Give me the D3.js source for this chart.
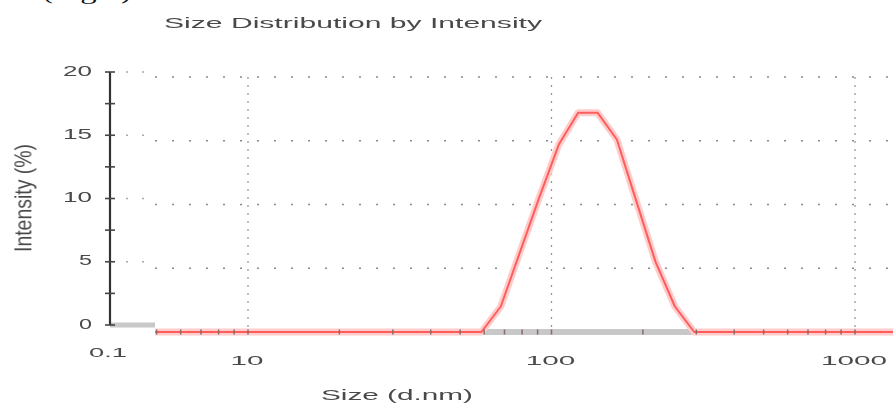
<!DOCTYPE html>
<html>
<head>
<meta charset="utf-8">
<script src="https://cdn.jsdelivr.net/npm/d3@7"></script>
<style>
  body { margin: 0; background: white; }
</style>
</head>
<body>
<div id="chart"></div>
<script>
// Chart values
const sizes = [4.85, 58.77, 68.06, 78.82, 91.28, 105.7, 122.4, 141.8, 164.2, 190.1, 220.2, 255.0, 295.3, 1484];
const intensity = [0, 0, 2.0, 6.3, 10.6, 14.7, 17.2, 17.2, 15.1, 10.3, 5.5, 2.0, 0, 0];
const yTicks = [0, 5, 10, 15, 20];
const yMinorTicks = [2.5, 7.5, 12.5, 17.5];
const xTicks = [10, 100, 1000];
const xTickLabels = ["10", "100", "1000"];
const xMinorTicks = [5, 6, 7, 8, 9, 20, 30, 40, 50, 60, 70, 80, 90, 200, 300, 400, 500, 600, 700, 800, 900];
const xAxisStartLabel = "0.1";
const titleText = "Size Distribution by Intensity";
const xLabel = "Size (d.nm)";
const yLabel = "Intensity (%)";
const figLabel = "(Fig.6)";

document.addEventListener('DOMContentLoaded', function() {
  drawChart();
});

function drawChart() {
  const width = 893;
  const height = 406;
  const plotLeft = 155;
  const axisX = 110;

  const svg = d3.select("#chart")
    .append("svg")
    .attr("width", width)
    .attr("height", height);

  svg.append("rect")
    .attr("width", width)
    .attr("height", height)
    .attr("fill", "white");

  const defs = svg.append("defs");

  // the source picture is a soft, low resolution scan
  defs.append("filter")
    .attr("id", "soft")
    .append("feGaussianBlur")
    .attr("stdDeviation", 0.55);

  defs.append("clipPath")
    .attr("id", "plotClip")
    .append("rect")
    .attr("x", plotLeft)
    .attr("y", 0)
    .attr("width", width - plotLeft)
    .attr("height", height);

  const root = svg.append("g").attr("filter", "url(#soft)");

  // Scales: the plot panel sits a few pixels lower than the pasted axis panel
  const x = d3.scaleLog().domain([10, 1000]).range([248, 855]);
  const y = d3.scaleLinear().domain([0, 20]).range([332, 77]);
  const yAxisScale = d3.scaleLinear().domain([0, 20]).range([325, 72]);

  const plot = root.append("g").attr("clip-path", "url(#plotClip)");

  // Horizontal dotted grid lines
  plot.selectAll(".hgrid")
    .data(yTicks.filter(d => d > 0))
    .enter()
    .append("line")
    .attr("class", "hgrid")
    .attr("x1", plotLeft)
    .attr("x2", width)
    .attr("y1", d => y(d))
    .attr("y2", d => y(d))
    .attr("stroke", "#8a8a8a")
    .attr("stroke-width", 1.6)
    .attr("stroke-dasharray", "2,15");

  // Vertical dotted grid lines
  plot.selectAll(".vgrid")
    .data(xTicks)
    .enter()
    .append("line")
    .attr("class", "vgrid")
    .attr("x1", d => x(d))
    .attr("x2", d => x(d))
    .attr("y1", y(20))
    .attr("y2", y(0))
    .attr("stroke", "#999")
    .attr("stroke-width", 1.3)
    .attr("stroke-dasharray", "2,6");

  // x axis band
  plot.append("line")
    .attr("x1", plotLeft)
    .attr("x2", width)
    .attr("y1", y(0))
    .attr("y2", y(0))
    .attr("stroke", "#c8c8c8")
    .attr("stroke-width", 6);

  // Intensity curve: pale halo plus red core
  const line = d3.line()
    .x((d, i) => x(sizes[i]))
    .y(d => y(d));

  plot.append("path")
    .datum(intensity)
    .attr("fill", "none")
    .attr("stroke", "#ffcccc")
    .attr("stroke-width", 7)
    .attr("stroke-linejoin", "round")
    .attr("d", line);

  plot.append("path")
    .datum(intensity)
    .attr("fill", "none")
    .attr("stroke", "#ff5c5c")
    .attr("stroke-width", 2)
    .attr("stroke-linejoin", "round")
    .attr("d", line);

  // Minor and major tick marks on the x axis band
  plot.selectAll(".xminor")
    .data(xMinorTicks.concat(xTicks))
    .enter()
    .append("line")
    .attr("class", "xminor")
    .attr("x1", d => x(d))
    .attr("x2", d => x(d))
    .attr("y1", y(0) - 2.5)
    .attr("y2", y(0) + 2.5)
    .attr("stroke", "#8a6a6a")
    .attr("stroke-width", 1.5);

  // Left axis panel
  root.append("line")
    .attr("x1", axisX)
    .attr("x2", plotLeft)
    .attr("y1", yAxisScale(0))
    .attr("y2", yAxisScale(0))
    .attr("stroke", "#c8c8c8")
    .attr("stroke-width", 5);

  root.selectAll(".lgrid")
    .data(yTicks.filter(d => d > 0))
    .enter()
    .append("line")
    .attr("class", "lgrid")
    .attr("x1", 126)
    .attr("x2", plotLeft)
    .attr("y1", d => yAxisScale(d))
    .attr("y2", d => yAxisScale(d))
    .attr("stroke", "#aaa")
    .attr("stroke-width", 1.6)
    .attr("stroke-dasharray", "2,14");

  root.append("line")
    .attr("x1", axisX)
    .attr("x2", axisX)
    .attr("y1", yAxisScale(0))
    .attr("y2", yAxisScale(20))
    .attr("stroke", "#333")
    .attr("stroke-width", 2.2);

  root.selectAll(".ytick")
    .data(yTicks.concat(yMinorTicks))
    .enter()
    .append("line")
    .attr("class", "ytick")
    .attr("x1", axisX - 5)
    .attr("x2", axisX + 5)
    .attr("y1", d => yAxisScale(d))
    .attr("y2", d => yAxisScale(d))
    .attr("stroke", "#444")
    .attr("stroke-width", 1.6);

  root.selectAll(".ylabel")
    .data(yTicks)
    .enter()
    .append("text")
    .attr("class", "ylabel")
    .attr("x", 92)
    .attr("y", d => yAxisScale(d))
    .attr("text-anchor", "end")
    .attr("dominant-baseline", "middle")
    .attr("font-family", "Arial")
    .attr("font-size", "14px")
    .attr("fill", "#4a4a4a")
    .attr("textLength", d => d < 10 ? 13 : 29)
    .attr("lengthAdjust", "spacingAndGlyphs")
    .text(d => d);

  // x tick labels
  root.append("text")
    .attr("x", axisX - 2)
    .attr("y", 357)
    .attr("text-anchor", "middle")
    .attr("font-family", "Arial")
    .attr("font-size", "13px")
    .attr("fill", "#4a4a4a")
    .attr("textLength", 38)
    .attr("lengthAdjust", "spacingAndGlyphs")
    .text(xAxisStartLabel);

  root.selectAll(".xlabel")
    .data(xTicks)
    .enter()
    .append("text")
    .attr("class", "xlabel")
    .attr("x", d => x(d) - 1)
    .attr("y", 365)
    .attr("text-anchor", "middle")
    .attr("font-family", "Arial")
    .attr("font-size", "13px")
    .attr("fill", "#4a4a4a")
    .attr("textLength", (d, i) => xTickLabels[i].length * 16.5)
    .attr("lengthAdjust", "spacingAndGlyphs")
    .text((d, i) => xTickLabels[i]);

  // Title and axis titles
  root.append("text")
    .attr("x", 353)
    .attr("y", 28)
    .attr("text-anchor", "middle")
    .attr("font-family", "Arial")
    .attr("font-size", "14px")
    .attr("fill", "#4a4a4a")
    .attr("textLength", 378)
    .attr("lengthAdjust", "spacingAndGlyphs")
    .text(titleText);

  root.append("text")
    .attr("x", 397)
    .attr("y", 400)
    .attr("text-anchor", "middle")
    .attr("font-family", "Arial")
    .attr("font-size", "14px")
    .attr("fill", "#4a4a4a")
    .attr("textLength", 152)
    .attr("lengthAdjust", "spacingAndGlyphs")
    .text(xLabel);

  root.append("text")
    .attr("transform", "translate(31,198) rotate(-90) scale(1,1.8)")
    .attr("text-anchor", "middle")
    .attr("font-family", "Arial")
    .attr("font-size", "13px")
    .attr("fill", "#4a4a4a")
    .attr("textLength", 108)
    .attr("lengthAdjust", "spacingAndGlyphs")
    .text(yLabel);

  // Caption from the page above, cut off at the top edge
  svg.append("text")
    .attr("x", 42)
    .attr("y", -1)
    .attr("font-family", "Liberation Serif")
    .attr("font-size", "22px")
    .attr("fill", "#111")
    .attr("textLength", 90)
    .attr("lengthAdjust", "spacingAndGlyphs")
    .text(figLabel);
}
</script>
</body>
</html>
